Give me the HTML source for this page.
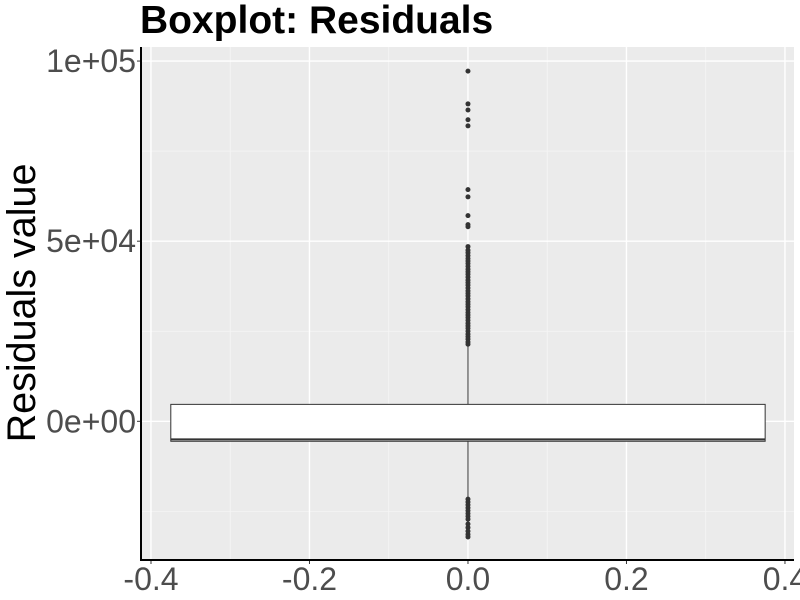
<!DOCTYPE html>
<html><head><meta charset="utf-8"><style>
html,body{margin:0;padding:0;background:#fff;}
svg{display:block;font-family:"Liberation Sans",sans-serif;}
</style></head><body>
<svg id="chart" width="800" height="600" viewBox="0 0 800 600">
<text x="140" y="33" font-size="39" font-weight="bold" fill="#000">Boxplot: Residuals</text>
<text transform="translate(35,303) rotate(-90)" text-anchor="middle" font-size="39.5" fill="#000">Residuals value</text>
<g id="plot"></g>
</svg>
<script>
const xTicks = [-0.4, -0.2, 0.0, 0.2, 0.4];
const xTickLabels = ["-0.4", "-0.2", "0.0", "0.2", "0.4"];
const yTicks = [0, 50000, 100000];
const yTickLabels = ["0e+00", "5e+04", "1e+05"];
const boxStats = [-21000, -5540, -5000, 4700, 21000]; // lower whisker, q1, median, q3, upper whisker
const boxHalfWidth = [0.375];
const upperOutliers = [97200, 88100, 86400, 83700, 82000, 64300, 62300, 57100, 54600, 54000,
  48500, 47500, 46800, 46000, 45200, 44500, 43800, 43000, 42200, 41500, 40800, 40000, 39200,
  38500, 37800, 37000, 36200, 35500, 34800, 34000, 33200, 32500, 31800, 31000, 30200, 29500,
  28800, 28000, 27200, 26500, 25800, 25000, 24200, 23500, 22800, 22000, 21400];
const lowerOutliers = [-21600, -22400, -23200, -24000, -24800, -25600, -26400, -27200, -28500, -29500, -30500, -31400, -32100];

const P = {l:141, r:794, t:47, b:560};
const xMin = -0.4126, xMax = 0.4114, yMin = -38500, yMax = 103900;
const sx = v => P.l + (v - xMin) / (xMax - xMin) * (P.r - P.l);
const sy = v => P.b - (v - yMin) / (yMax - yMin) * (P.b - P.t);
const NS = "http://www.w3.org/2000/svg";
const g = document.getElementById("plot");
function mk(tag, attrs, parent){ const e=document.createElementNS(NS,tag); for(const k in attrs) e.setAttribute(k,attrs[k]); (parent||g).appendChild(e); return e; }

const bg = mk("rect",{x:P.l,y:P.t,width:P.r-P.l,height:P.b-P.t,fill:"#ebebeb"});



for (let i=0;i<xTicks.length-1;i++){
  const m=(xTicks[i]+xTicks[i+1])/2;
  const l=mk("line",{x1:sx(m),x2:sx(m),y1:P.t,y2:P.b,stroke:"#f5f5f5","stroke-width":0.8});
  
  
}
for (let v=-25000; v<=yMax; v+=50000){
  const l=mk("line",{x1:P.l,x2:P.r,y1:sy(v),y2:sy(v),stroke:"#f5f5f5","stroke-width":0.8});
  
  
}
xTicks.forEach((v,i)=>{
  const l=mk("line",{x1:sx(v),x2:sx(v),y1:P.t,y2:P.b,stroke:"#fff","stroke-width":1.4});
  
  
  const t=mk("line",{x1:sx(v),x2:sx(v),y1:P.b,y2:P.b+4,stroke:"#333","stroke-width":1});
  
  
  const tx=mk("text",{x:sx(v),y:590,"text-anchor":"middle","font-size":32,fill:"#4d4d4d"});
  tx.textContent=xTickLabels[i];
  
  
});
yTicks.forEach((v,i)=>{
  const l=mk("line",{x1:P.l,x2:P.r,y1:sy(v),y2:sy(v),stroke:"#fff","stroke-width":1.4});
  
  
  const t=mk("line",{x1:P.l-4,x2:P.l,y1:sy(v),y2:sy(v),stroke:"#333","stroke-width":1});
  
  
  const tx=mk("text",{x:P.l-5,y:sy(v)+11,"text-anchor":"end","font-size":32,fill:"#4d4d4d"});
  tx.textContent=yTickLabels[i];
  
  
});
const w1=mk("line",{x1:sx(0),x2:sx(0),y1:sy(boxStats[3]),y2:sy(boxStats[4]),stroke:"#333","stroke-width":1});


const w2=mk("line",{x1:sx(0),x2:sx(0),y1:sy(boxStats[1]),y2:sy(boxStats[0]),stroke:"#333","stroke-width":1});


const bx=mk("rect",{x:sx(-boxHalfWidth[0]),y:sy(boxStats[3]),width:sx(boxHalfWidth[0])-sx(-boxHalfWidth[0]),height:sy(boxStats[1])-sy(boxStats[3]),fill:"#fff",stroke:"#333","stroke-width":1});


const md=mk("line",{x1:sx(-boxHalfWidth[0]),x2:sx(boxHalfWidth[0]),y1:sy(boxStats[2]),y2:sy(boxStats[2]),stroke:"#333","stroke-width":2});


upperOutliers.concat(lowerOutliers).forEach(v=>{
  const c=mk("circle",{cx:sx(0),cy:sy(v),r:2.5,fill:"#333"});
  
  
});
const ax=mk("line",{x1:P.l,x2:P.r,y1:P.b,y2:P.b,stroke:"#000","stroke-width":2});


const ay=mk("line",{x1:P.l,x2:P.l,y1:P.t,y2:P.b+1,stroke:"#000","stroke-width":2});


</script>
</body></html>
